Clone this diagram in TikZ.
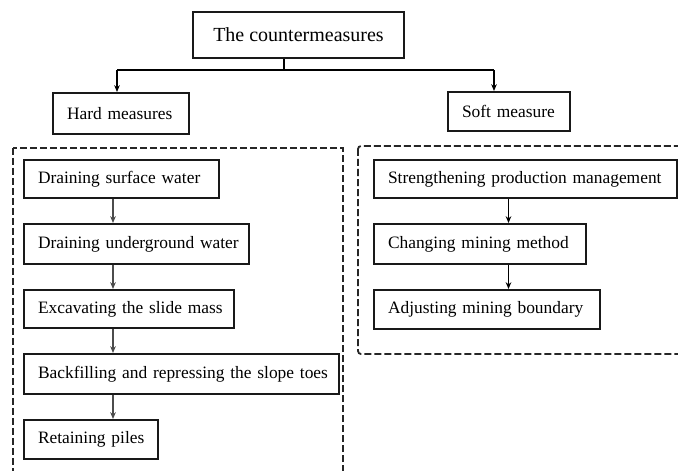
\documentclass[tikz,border=0pt]{standalone}
\usepackage{fontspec}
\setmainfont{Liberation Serif}
\usetikzlibrary{arrows.meta}
\begin{document}
\begin{tikzpicture}[x=0.5pt,y=-0.5pt,
  bx/.style={draw=black!90, line width=1pt, anchor=west, inner xsep=7pt, inner ysep=0pt,
    align=left, font=\fontsize{8.7pt}{10pt}\selectfont},
  topbx/.style={draw=black!90, line width=1pt, inner sep=0pt, align=center,
    font=\fontsize{10pt}{12pt}\selectfont},
  arr/.style={line width=0.7pt, -{Stealth[length=3.4pt,width=2.8pt]}},
  conn/.style={line width=0.7pt},
  frame/.style={draw=black!85, line width=0.9pt, dash pattern=on 3.5pt off 1.5pt}]
\useasboundingbox (0,0) rectangle (678,470);
\clip (0,0) rectangle (678,470);
\fill[white] (0,0) rectangle (678,470);

% dashed frames
\draw[frame] (13,148) rectangle (343,490);
\draw[frame, rounded corners=1.5pt] (358,146) rectangle (700,354);

% top
\node[topbx, minimum width=105.5pt, minimum height=23pt] (top) at (298.5,35) {The countermeasures};
\node[bx, text width=54pt, minimum height=20.5pt] (hard) at (52,113.5) {\mbox{Hard measures}};
\node[bx, text width=47pt, minimum height=19.5pt] (soft) at (447,111.5) {\mbox{Soft measure}};

% left column
\node[bx, text width=83.5pt, minimum height=19pt] (d1) at (23,179) {\mbox{Draining surface water}};
\node[bx, text width=98.5pt, minimum height=20pt] (d2) at (23,244) {\mbox{Draining underground water}};
\node[bx, text width=91pt, minimum height=19pt] (d3) at (23,309) {\mbox{Excavating the slide mass}};
\node[bx, text width=143.5pt, minimum height=20pt] (d4) at (23,374) {\mbox{Backfilling and repressing the slope toes}};
\node[bx, text width=53pt, minimum height=19.5pt] (d5) at (23,439.5) {\mbox{Retaining piles}};

% right column
\node[bx, text width=137.5pt, minimum height=19pt] (s1) at (373,179) {\mbox{Strengthening production management}};
\node[bx, text width=92pt, minimum height=20pt] (s2) at (373,244) {\mbox{Changing mining method}};
\node[bx, text width=99pt, minimum height=19.5pt] (s3) at (373,309.5) {\mbox{Adjusting mining boundary}};

% connectors from the top
\coordinate (j) at (284,70);
\coordinate (hl) at (117,70);
\coordinate (hr) at (494,70);
\draw[conn] (top.south -| j) -- (j);
\draw[conn] (hl) -- (hr);
\draw[arr] (hl) -- (hl |- hard.north);
\draw[arr] (hr) -- (hr |- soft.north);

% column connectors
\coordinate (ax) at (113,0);
\coordinate (bx) at (508.5,0);
\draw[arr, black!70] (d1.south -| ax) -- (d2.north -| ax);
\draw[arr, black!70] (d2.south -| ax) -- (d3.north -| ax);
\draw[arr, black!70] (d3.south -| ax) -- (d4.north -| ax);
\draw[arr, black!70] (d4.south -| ax) -- (d5.north -| ax);
\draw[arr] (s1.south -| bx) -- (s2.north -| bx);
\draw[arr] (s2.south -| bx) -- (s3.north -| bx);
\end{tikzpicture}
\end{document}
